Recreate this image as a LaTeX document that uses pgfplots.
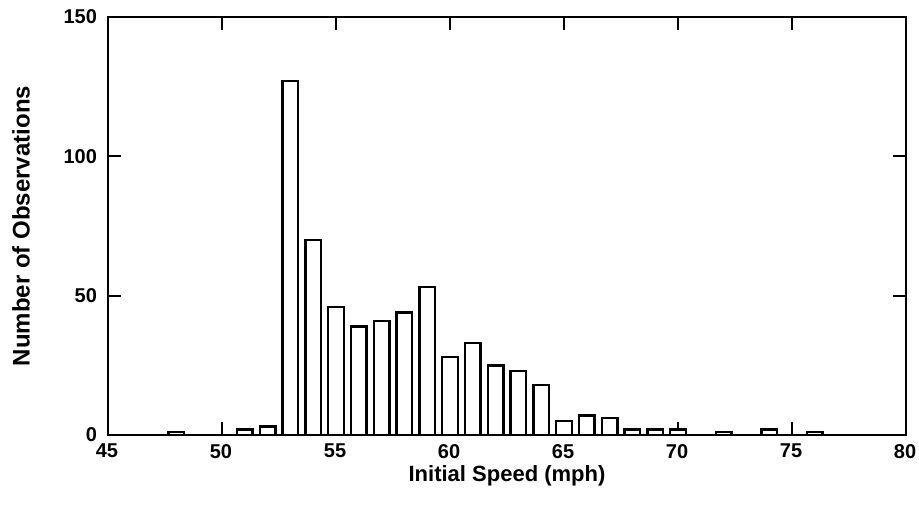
\documentclass[border=0pt]{standalone}
\usepackage{pgfplots}
\pgfplotsset{compat=1.18}
\usepackage{fontspec}
\setmainfont{Liberation Sans}

\pgfplotstableread{
speed count
48 1
51 2
52 3
53 127
54 70
55 46
56 39
57 41
58 44
59 53
60 28
61 33
62 25
63 23
64 18
65 5
66 7
67 6
68 2
69 2
70 2
72 1
74 2
76 1
}\speeddata

\begin{document}
\begin{tikzpicture}
\begin{axis}[
    scale only axis,
    width=399pt, height=209pt,
    xmin=45, xmax=80,
    ymin=0, ymax=150,
    xtick={45,50,...,80},
    ytick={0,50,100,150},
    tick align=inside,
    major tick length=6.5pt,
    minor tick num=0,
    axis line style={line width=1.2pt},
    every tick/.style={black, line width=1.1pt},
    tick label style={font=\fontsize{10}{12}\selectfont\bfseries},
    /pgf/number format/assume math mode=true,
    xticklabel style={yshift=-1pt, xshift=-0.5pt},
    yticklabel style={xshift=-2pt},
    xlabel={Initial Speed (mph)},
    ylabel={Number of Observations},
    xlabel style={font=\fontsize{11}{13}\selectfont\bfseries, yshift=3pt},
    ylabel style={font=\fontsize{12}{14}\selectfont\bfseries, yshift=10pt},
    ]
    \addplot[ybar, bar width=0.68, fill=white, draw=black, line width=1.2pt]
        table[x=speed, y=count] {\speeddata};
\end{axis}
\pgfresetboundingbox
\path ([xshift=-54pt,yshift=-35.5pt]current axis.south west) rectangle ([xshift=6.5pt,yshift=8.5pt]current axis.north east);
\end{tikzpicture}
\end{document}
